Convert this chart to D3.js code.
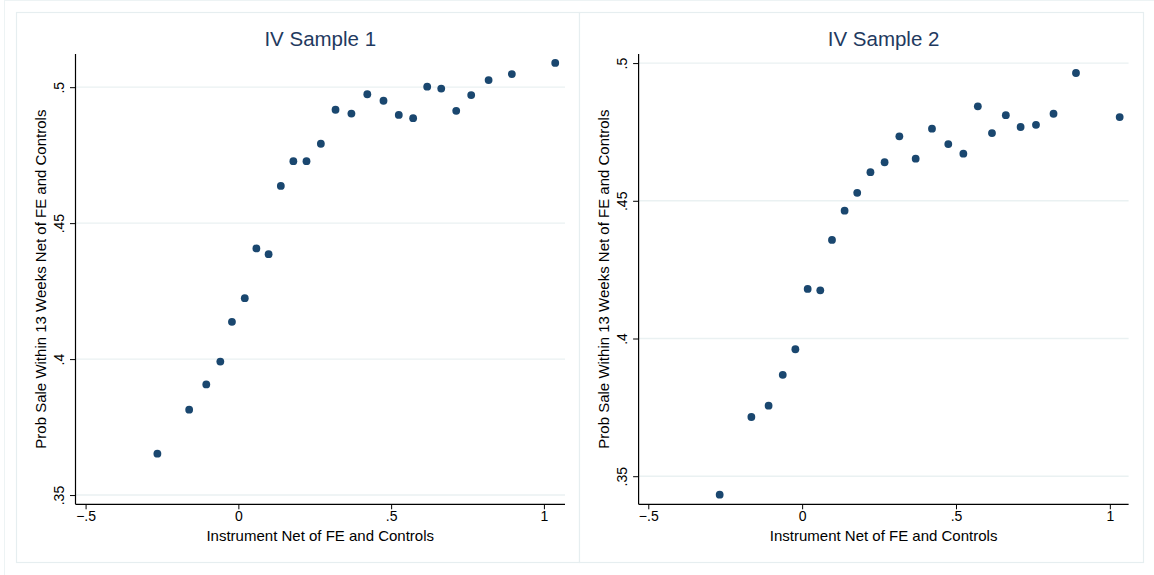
<!DOCTYPE html>
<html>
<head>
<meta charset="utf-8">
<script src="https://cdn.jsdelivr.net/npm/d3@7/dist/d3.min.js"></script>
<style>
  html, body { margin: 0; padding: 0; background: #ffffff; }
  svg { display: block; font-family: "Liberation Sans", Arial, Helvetica, sans-serif; }
</style>
</head>
<body>
<svg id="chart" width="1154" height="575"></svg>
<script>
// Binned scatter: instrument (net of FE and controls) vs. probability of sale within 13 weeks
const sample1X = [-0.265, -0.161, -0.105, -0.059, -0.021, 0.021, 0.059, 0.099, 0.139, 0.180, 0.223, 0.270, 0.318,
                  0.370, 0.422, 0.475, 0.525, 0.572, 0.618, 0.664, 0.713, 0.762, 0.819, 0.895, 1.037];
const sample1Y = [0.3652, 0.3814, 0.3907, 0.3991, 0.4137, 0.4224, 0.4407, 0.4386, 0.4637, 0.4728, 0.4728, 0.4792, 0.4917,
                  0.4903, 0.4974, 0.4950, 0.4898, 0.4886, 0.5002, 0.4995, 0.4913, 0.4971, 0.5026, 0.5048, 0.5089];

const sample2X = [-0.268, -0.165, -0.109, -0.063, -0.022, 0.018, 0.059, 0.097, 0.138, 0.179, 0.222, 0.268, 0.316,
                  0.369, 0.422, 0.475, 0.524, 0.571, 0.617, 0.662, 0.710, 0.760, 0.817, 0.890, 1.032];
const sample2Y = [0.3433, 0.3715, 0.3756, 0.3868, 0.3961, 0.4180, 0.4175, 0.4358, 0.4464, 0.4529, 0.4604, 0.4640, 0.4734,
                  0.4653, 0.4762, 0.4706, 0.4671, 0.4843, 0.4746, 0.4811, 0.4768, 0.4776, 0.4816, 0.4964, 0.4804];

const panelTitles = ["IV Sample 1", "IV Sample 2"];
const xTickValues = [-0.5, 0, 0.5, 1];
const yTickValues = [0.35, 0.4, 0.45, 0.5];
const xAxisTitle = "Instrument Net of FE and Controls";
const yAxisTitle = "Prob Sale Within 13 Weeks Net of FE and Controls";

// Stata-style number labels: ".5", "-.5", "0", "1"
function stataFormat(v) {
  let s = String(+v.toFixed(4));
  s = s.replace(/^0\./, ".").replace(/^-0\./, "-.");
  return s.replace("-", "\u2212");
}

const svg = d3.select("#chart");
const frameColor = "#e6eef0";
const gridColor = "#eaf1f2";
const dotColor = "#1a476f";
const titleColor = "#1f3a60";

// outer graph region border
svg.append("rect")
  .attr("x", 4.5).attr("y", 0.5).attr("width", 1170).attr("height", 600)
  .attr("fill", "#ffffff").attr("stroke", "#edf3f4").attr("stroke-width", 1);

const panels = [
  { x: sample1X, y: sample1Y, title: panelTitles[0],
    frame: [16.5, 12.5, 563, 550],
    plot: { left: 75.5, right: 565, top: 54, bottom: 504.3 },
    xDomain: [-0.533, 1.069], yDomain: [0.3466, 0.5122] },
  { x: sample2X, y: sample2Y, title: panelTitles[1],
    frame: [579.5, 12.5, 564, 550],
    plot: { left: 638.6, right: 1128.6, top: 54, bottom: 504.3 },
    xDomain: [-0.5315, 1.061], yDomain: [0.3398, 0.5033] }
];

panels.forEach(p => {
  const g = svg.append("g");

  // panel frame
  g.append("rect")
    .attr("x", p.frame[0]).attr("y", p.frame[1])
    .attr("width", p.frame[2]).attr("height", p.frame[3])
    .attr("fill", "#ffffff").attr("stroke", frameColor).attr("stroke-width", 1.2);

  const x = d3.scaleLinear().domain(p.xDomain).range([p.plot.left, p.plot.right]);
  const y = d3.scaleLinear().domain(p.yDomain).range([p.plot.bottom, p.plot.top]);

  // horizontal gridlines
  g.append("g").selectAll("line").data(yTickValues).join("line")
    .attr("x1", p.plot.left).attr("x2", p.plot.right)
    .attr("y1", d => y(d)).attr("y2", d => y(d))
    .attr("stroke", gridColor).attr("stroke-width", 1.4);

  // y axis
  const yAxis = g.append("g")
    .attr("transform", `translate(${p.plot.left},0)`)
    .call(d3.axisLeft(y).tickValues(yTickValues).tickSize(5.5).tickPadding(0).tickFormat(stataFormat));
  yAxis.select(".domain").attr("stroke", "#000").attr("stroke-width", 1.2);
  yAxis.selectAll(".tick line").attr("stroke", "#000").attr("stroke-width", 1);
  yAxis.selectAll(".tick text")
    .attr("x", null).attr("dy", null)
    .attr("text-anchor", "middle")
    .attr("transform", "translate(-17,0) rotate(-90)")
    .attr("dy", "0.36em")
    .attr("font-size", 14)
    .attr("fill", "#000");

  // x axis
  const xAxis = g.append("g")
    .attr("transform", `translate(0,${p.plot.bottom})`)
    .call(d3.axisBottom(x).tickValues(xTickValues).tickSize(5).tickPadding(2).tickFormat(stataFormat));
  xAxis.select(".domain").attr("stroke", "#000").attr("stroke-width", 1.2);
  xAxis.selectAll(".tick line").attr("stroke", "#000").attr("stroke-width", 1);
  xAxis.selectAll(".tick text").attr("font-size", 14).attr("fill", "#000");

  // axis lines span the whole plot region
  yAxis.select(".domain").attr("d", `M0,${p.plot.top}V${p.plot.bottom}`);
  xAxis.select(".domain").attr("d", `M${p.plot.left},0H${p.plot.right}`);

  // points
  g.append("g").selectAll("circle").data(p.x.map((v, i) => [v, p.y[i]])).join("circle")
    .attr("cx", d => x(d[0])).attr("cy", d => y(d[1]))
    .attr("r", 3.9).attr("fill", dotColor);

  // titles
  const cx = (p.plot.left + p.plot.right) / 2;
  g.append("text").attr("x", cx).attr("y", 45.5)
    .attr("text-anchor", "middle").attr("font-size", 20.5).attr("fill", titleColor)
    .text(p.title);

  g.append("text").attr("x", cx).attr("y", 540.5)
    .attr("text-anchor", "middle").attr("font-size", 15).attr("fill", "#000")
    .text(xAxisTitle);

  const cy = (p.plot.top + p.plot.bottom) / 2;
  g.append("text")
    .attr("transform", `translate(${p.plot.left - 29.5},${cy}) rotate(-90)`)
    .attr("text-anchor", "middle").attr("font-size", 15).attr("fill", "#000")
    .text(yAxisTitle);
});
</script>
</body>
</html>
